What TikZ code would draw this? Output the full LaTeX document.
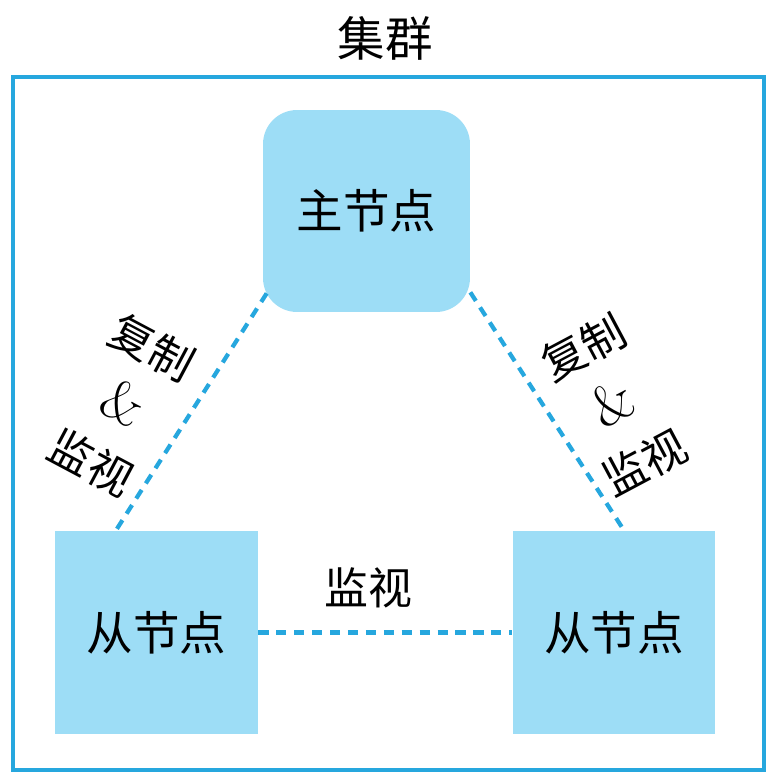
\documentclass[tikz,border=0pt]{standalone}
\usepackage{fontspec}
\newfontfamily\cjk{Noto Sans CJK SC}
\usetikzlibrary{calc}
\definecolor{linkblue}{RGB}{38,167,222}
\definecolor{boxblue}{RGB}{157,221,246}

\begin{document}
\begin{tikzpicture}[x=0.02cm, y=-0.02cm,
	frame/.style={draw=linkblue, line width=2.3pt},
	master/.style={fill=boxblue, rounded corners=0.68cm, minimum width=4.14cm, minimum height=4.04cm, inner sep=0pt, font=\cjk\fontsize{26.5}{30}\selectfont},
	slave/.style={fill=boxblue, minimum width=4.06cm, minimum height=4.06cm, inner sep=0pt, font=\cjk\fontsize{26.5}{30}\selectfont},
	link/.style={draw=linkblue, line width=2.4pt, dash pattern=on 5.8pt off 4.4pt},
	tag/.style={align=center, font=\fontsize{25}{37}\selectfont}]
			%%%%% START %%%%%
			
			\useasboundingbox[fill=white] (0, 0) rectangle (777, 778);
			
			\draw[frame] (13, 77) rectangle (764, 770);
			\node[font=\cjk\fontsize{27}{30}\selectfont] (title) at (385, 38) {集群};
			
			\node[master] (master) at (366.5, 211) {主节点};
			\node[slave] (slaveL) at (156.5, 632.5) {从节点};
			\node[slave] (slaveR) at (614, 632.5) {从节点};
			
			\draw[link] ($(master.south west)+(4, -19)$) -- ($(slaveL.north west)!0.3!(slaveL.north east)$);
			\draw[link] ($(master.south east)+(0, -20)$) -- ($(slaveR.north west)!0.55!(slaveR.north east)$);
			\draw[link] (slaveL.east) -- (slaveR.west);
			
			\node[tag, rotate=-28] (tagL) at (122, 405) {{\cjk 复制}\\{\fontsize{32}{37}\selectfont\&}\\{\cjk 监视}};
			\node[tag, rotate=28] (tagR) at (614, 405) {{\cjk 复制}\\{\fontsize{32}{37}\selectfont\&}\\{\cjk 监视}};
			\node[tag, font=\cjk\fontsize{25}{30}\selectfont] (tagM) at (368, 588) {监视};
			
			%%%%% END %%%%%
\end{tikzpicture}
\end{document}
